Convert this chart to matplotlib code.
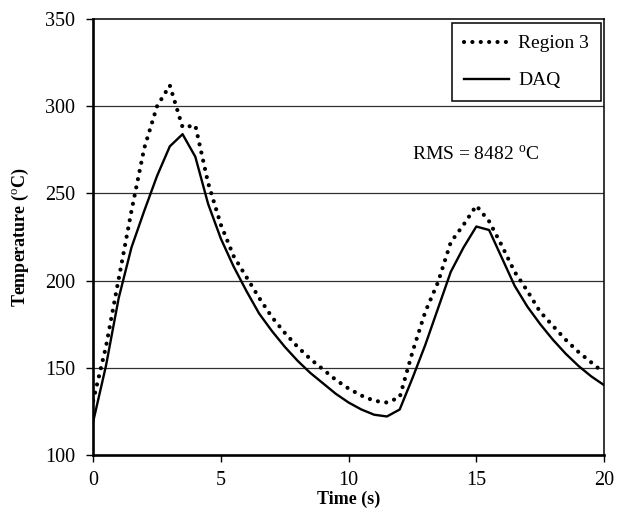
import numpy as np
import matplotlib
matplotlib.use('Agg')
import matplotlib.pyplot as plt

plt.rcParams['font.family'] = 'Liberation Serif'
plt.rcParams['mathtext.fontset'] = 'custom'
plt.rcParams['mathtext.rm'] = 'Liberation Serif'

# time base (s), 0.5 s sampling
time = np.arange(0, 20.5, 0.5)

# Region 3 temperatures (C)
region3 = [131, 162, 201, 240, 276, 300, 312, 288, 289, 256,
           232, 214, 202, 190, 179, 170, 162, 155, 149, 143,
           138, 134, 131, 130, 133, 159, 182, 199, 222, 232,
           243, 234, 220, 205, 194, 182, 174, 166, 159, 153, 147]

# DAQ thermocouple temperatures (C)
daq = [119, 151, 190, 219, 240, 260, 277, 284, 271, 244,
       224, 208, 194, 181, 171, 162, 154, 147, 141, 135,
       130, 126, 123, 122, 126, 144, 163, 184, 205, 219,
       231, 229, 213, 197, 185, 175, 166, 158, 151, 145, 140]

rms_text = 'RMS = 8482 $^{\\mathrm{o}}$C'

fig = plt.figure(figsize=(6.17, 5.18), dpi=100)
ax = fig.add_axes([0.151, 0.122, 0.828, 0.841])

ax.plot(time, region3, color='black', lw=3.0, linestyle=(0, (0.01, 2.0)),
        dash_capstyle='round', label='Region 3')
ax.plot(time, daq, color='black', lw=1.7, label='DAQ')

ax.set_xlim(0, 20)
ax.set_ylim(100, 350)
ax.set_xticks([0, 5, 10, 15, 20])
ax.set_yticks([100, 150, 200, 250, 300, 350])

# horizontal gridlines only
for yv in [150, 200, 250, 300]:
    ax.axhline(yv, color='#303030', lw=0.9, zorder=0)

ax.spines['left'].set_linewidth(1.9)
ax.spines['bottom'].set_linewidth(1.9)
ax.spines['top'].set_linewidth(1.1)
ax.spines['right'].set_linewidth(1.1)

ax.tick_params(direction='out', length=5, width=1.0, labelsize=14.5)
ax.tick_params(axis='y', pad=8)
ax.tick_params(axis='x', pad=7)

ax.set_xlabel('Time (s)', fontsize=13, fontweight='bold', labelpad=0)
ax.set_ylabel('Temperature ($^{\\mathrm{o}}$C)', fontsize=13, fontweight='bold', labelpad=10)

ax.text(12.5, 272, rms_text, fontsize=14, va='center', ha='left')

leg = ax.legend(loc='upper right', bbox_to_anchor=(0.994, 0.991), fontsize=14,
                frameon=True, fancybox=False, edgecolor='black', framealpha=1,
                handlelength=2.3, handletextpad=0.5, labelspacing=1.0,
                borderpad=0.6, borderaxespad=0)
leg.get_frame().set_linewidth(1.1)

fig.savefig('out.png', dpi=100)
